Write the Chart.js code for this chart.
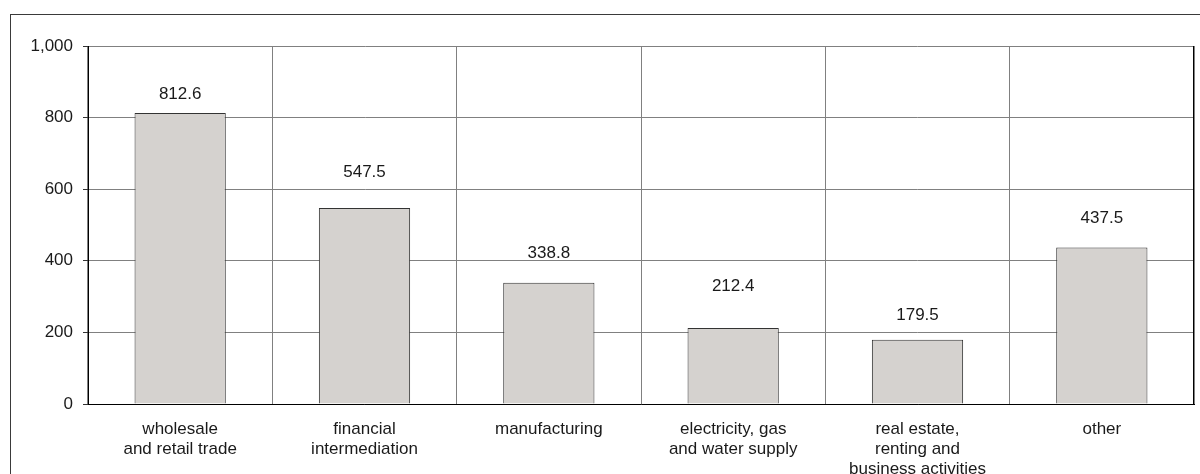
<!DOCTYPE html>
<html>
<head>
<meta charset="utf-8">
<script src="https://cdn.jsdelivr.net/npm/chart.js@4/dist/chart.umd.min.js"></script>
<style>
  html, body { margin: 0; padding: 0; background: #ffffff; }
  #wrap { width: 1200px; height: 474px; position: relative; }
</style>
</head>
<body>
<div id="wrap"><canvas id="c" width="1200" height="474"></canvas></div>
<script>
const categories = [
  ["wholesale", "and retail trade"],
  ["financial", "intermediation"],
  ["manufacturing"],
  ["electricity, gas", "and water supply"],
  ["real estate,", "renting and", "business activities"],
  ["other"]
];
const values = [812.6, 547.5, 338.8, 212.4, 179.5, 437.5];
const yTickValues = [0, 200, 400, 600, 800, 1000];

const FONT = "'Liberation Sans', Arial, Helvetica, sans-serif";
const TEXT = '#1a1a1a';

const framePlugin = {
  id: 'frame',
  beforeDraw(chart) {
    const ctx = chart.ctx;
    ctx.save();
    ctx.fillStyle = '#ffffff';
    ctx.fillRect(0, 0, chart.width, chart.height);
    ctx.strokeStyle = '#3a3a3a';
    ctx.lineWidth = 1;
    ctx.strokeRect(10.5, 14.5, 1300, 600);
    ctx.restore();
  },
  afterDraw(chart) {
    const a = chart.chartArea;
    const ctx = chart.ctx;
    ctx.save();
    ctx.strokeStyle = '#000000';
    ctx.lineWidth = 1;
    ctx.beginPath();
    const r = Math.round(a.right) - 0.5;
    ctx.moveTo(r, a.top);
    ctx.lineTo(r, a.bottom);
    ctx.stroke();
    ctx.restore();
  }
};

const valueLabelPlugin = {
  id: 'valueLabels',
  afterDatasetsDraw(chart, args, opts) {
    const ctx = chart.ctx;
    const meta = chart.getDatasetMeta(0);
    ctx.save();
    ctx.font = opts.font;
    ctx.fillStyle = opts.color;
    ctx.textAlign = 'center';
    ctx.textBaseline = 'middle';
    meta.data.forEach((bar, i) => {
      const v = chart.data.datasets[0].data[i];
      ctx.fillText(v.toFixed(1), bar.x, bar.y - opts.offsets[i]);
    });
    ctx.restore();
  }
};

new Chart(document.getElementById('c'), {
  type: 'bar',
  data: {
    labels: categories,
    datasets: [{
      data: values,
      backgroundColor: '#d5d2cf',
      borderColor: '#333333',
      borderWidth: 1,
      barPercentage: 0.495,
      categoryPercentage: 1.0
    }]
  },
  options: {
    responsive: false,
    animation: false,
    events: [],
    layout: { padding: { left: 0, top: 46, right: 6, bottom: 0 } },
    plugins: {
      legend: { display: false },
      tooltip: { enabled: false },
      valueLabels: {
        font: '17px ' + FONT,
        color: TEXT,
        offsets: [18.5, 35.6, 29, 41.4, 24.1, 28.6]
      }
    },
    scales: {
      x: {
        offset: true,
        grid: {
          offset: true,
          color: '#808080',
          lineWidth: 1,
          drawTicks: false
        },
        border: { color: '#000000', width: 1 },
        ticks: {
          color: TEXT,
          font: { family: FONT, size: 17, lineHeight: 1.18 },
          padding: 15,
          maxRotation: 0,
          autoSkip: false
        },
        afterFit(scale) { scale.height = 70; }
      },
      y: {
        min: 0,
        max: 1000,
        afterBuildTicks(scale) {
          scale.ticks = yTickValues.map(v => ({ value: v }));
        },
        grid: {
          color: '#808080',
          lineWidth: 1,
          tickLength: 5,
          tickColor: '#333333'
        },
        border: { color: '#000000', width: 1 },
        ticks: {
          color: TEXT,
          font: { family: FONT, size: 17 },
          padding: 10,
          callback: (v) => v.toLocaleString('en-US')
        },
        afterFit(scale) { scale.width = 88; }
      }
    }
  },
  plugins: [framePlugin, valueLabelPlugin]
});
</script>
</body>
</html>
